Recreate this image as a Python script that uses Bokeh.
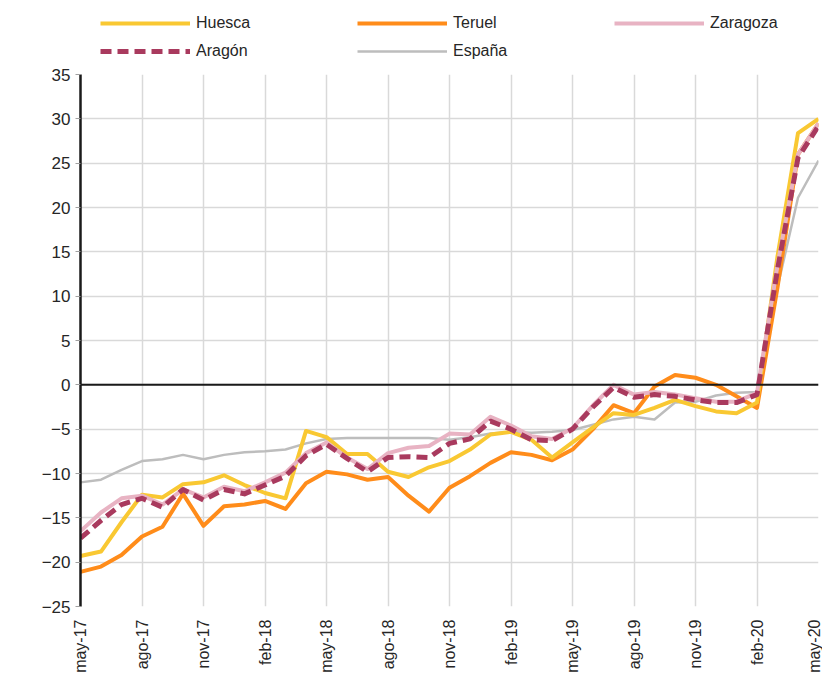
from bokeh.plotting import figure
from bokeh.models import Range1d, FixedTicker, Span, Legend, LegendItem
from bokeh.layouts import column
from bokeh.embed import file_html
from bokeh.resources import INLINE
import math

months = list(range(37))
tick_pos = [0, 3, 6, 9, 12, 15, 18, 21, 24, 27, 30, 33, 36]
tick_labels = ["may-17", "ago-17", "nov-17", "feb-18", "may-18", "ago-18", "nov-18",
               "feb-19", "may-19", "ago-19", "nov-19", "feb-20", "may-20"]

huesca = [-19.3, -18.8, -15.5, -12.4, -12.7, -11.2, -11.0, -10.2, -11.3, -12.2,
          -12.8, -5.2, -5.9, -7.8, -7.8, -9.8, -10.4, -9.3, -8.6, -7.3,
          -5.6, -5.3, -6.2, -8.2, -6.5, -4.8, -3.2, -3.4, -2.6, -1.7,
          -2.4, -3.0, -3.2, -2.0, 14.5, 28.4, 30.0]
teruel = [-21.1, -20.5, -19.2, -17.1, -16.0, -12.3, -15.9, -13.7, -13.5, -13.1,
          -14.0, -11.1, -9.8, -10.1, -10.7, -10.4, -12.5, -14.3, -11.6, -10.3,
          -8.8, -7.6, -7.9, -8.5, -7.3, -5.0, -2.3, -3.2, -0.2, 1.1,
          0.8, 0.0, -1.3, -2.6, 11.0, 26.0, 29.5]
zaragoza = [-16.5, -14.4, -12.8, -12.5, -13.5, -11.8, -12.7, -11.5, -12.0, -11.0,
            -9.9, -7.7, -6.5, -8.2, -9.5, -7.7, -7.1, -6.9, -5.5, -5.6,
            -3.6, -4.6, -5.8, -6.1, -4.9, -2.3, 0.0, -1.1, -0.8, -1.1,
            -1.5, -1.9, -1.9, -0.9, 13.5, 26.0, 29.5]
aragon = [-17.3, -15.3, -13.5, -12.8, -13.8, -11.8, -13.0, -11.8, -12.3, -11.3,
          -10.3, -8.0, -6.7, -8.3, -9.8, -8.2, -8.1, -8.2, -6.6, -6.1,
          -4.1, -5.0, -6.2, -6.3, -5.0, -2.5, -0.3, -1.4, -1.1, -1.3,
          -1.7, -2.0, -2.0, -1.1, 13.0, 25.6, 29.2]
espana = [-11.0, -10.7, -9.6, -8.6, -8.4, -7.9, -8.4, -7.9, -7.6, -7.5,
          -7.3, -6.6, -6.1, -6.0, -6.0, -6.0, -6.0, -6.0, -6.2, -5.9,
          -5.5, -5.3, -5.4, -5.3, -5.1, -4.5, -3.9, -3.6, -3.9, -2.0,
          -1.9, -1.2, -0.9, -0.8, 11.0, 21.1, 25.3]

names = ["Huesca", "Teruel", "Zaragoza", "Aragón", "España"]
styles = {
    "Huesca": dict(line_color="#f9c832", line_width=4),
    "Teruel": dict(line_color="#ff8c1a", line_width=4),
    "Zaragoza": dict(line_color="#e8b3c3", line_width=4),
    "Aragón": dict(line_color="#a93a5e", line_width=5, line_dash="11 6"),
    "España": dict(line_color="#bdbdbd", line_width=2.5),
}
series = {"Huesca": huesca, "Teruel": teruel, "Zaragoza": zaragoza,
          "Aragón": aragon, "España": espana}
draw_order = ["España", "Teruel", "Huesca", "Zaragoza", "Aragón"]

FONT = "Liberation Sans"
W = 822

# ---------- legend strip (series drawn out of view, only their legend glyphs show) ----------
lf = figure(width=W, height=62, output_backend="svg", toolbar_location=None,
            x_axis_type=None, y_axis_type=None,
            x_range=Range1d(-20, -10), y_range=Range1d(100, 110),
            min_border_left=0, min_border_right=0, min_border_top=0, min_border_bottom=0)
lf.outline_line_color = None
lf.xgrid.visible = False
lf.ygrid.visible = False
lrend = {n: lf.line(months, series[n], **styles[n]) for n in names}

common = dict(orientation="horizontal", border_line_alpha=0, background_fill_alpha=0,
              glyph_width=90, glyph_height=18, label_height=18, label_width=150,
              label_standoff=6, spacing=11, padding=0, margin=0,
              label_text_font=FONT, label_text_font_size="16px", label_text_color="#262626")
leg1 = Legend(items=[LegendItem(label=n, renderers=[lrend[n]]) for n in names[:3]],
              location=(20, 30), **common)
leg2 = Legend(items=[LegendItem(label=n, renderers=[lrend[n]]) for n in names[3:]],
              location=(20, 2), **common)
lf.add_layout(leg1, "center")
lf.add_layout(leg2, "center")

# ---------- main chart ----------
p = figure(width=W, height=613, output_backend="svg", toolbar_location=None,
           x_range=Range1d(0, 36), y_range=Range1d(-25, 35),
           min_border_left=80, min_border_right=4, min_border_top=12, min_border_bottom=67)
p.outline_line_color = None

p.xgrid.ticker = FixedTicker(ticks=tick_pos)
p.xgrid.grid_line_color = "#d9d9d9"
p.xgrid.grid_line_width = 1.5
p.ygrid.grid_line_color = "#d9d9d9"
p.ygrid.grid_line_width = 1.5

p.xaxis.ticker = FixedTicker(ticks=tick_pos)
p.xaxis.major_label_overrides = {t: l for t, l in zip(tick_pos, tick_labels)}
p.xaxis.major_label_orientation = math.pi / 2
p.xaxis.axis_line_color = None
p.xaxis.major_tick_line_color = None
p.xaxis.minor_tick_line_color = None
p.xaxis.major_label_text_font = FONT
p.xaxis.major_label_text_font_size = "16px"
p.xaxis.major_label_text_color = "#262626"
p.xaxis.major_label_standoff = 7

p.yaxis.ticker = FixedTicker(ticks=list(range(-25, 40, 5)))
p.yaxis.axis_line_color = "#1a1a1a"
p.yaxis.axis_line_width = 2.5
p.yaxis.major_tick_line_color = "#a0a0a0"
p.yaxis.major_tick_out = 5
p.yaxis.major_tick_in = 0
p.yaxis.minor_tick_line_color = None
p.yaxis.major_label_text_font = FONT
p.yaxis.major_label_text_font_size = "17px"
p.yaxis.major_label_text_color = "#262626"
p.yaxis.major_label_standoff = 5

p.add_layout(Span(location=0, dimension="width", line_color="#1a1a1a", line_width=2))

for n in draw_order:
    p.line(months, series[n], line_join="round", **styles[n])

layout = column(lf, p, spacing=0)
open("out.html", "w").write(file_html(layout, INLINE))
